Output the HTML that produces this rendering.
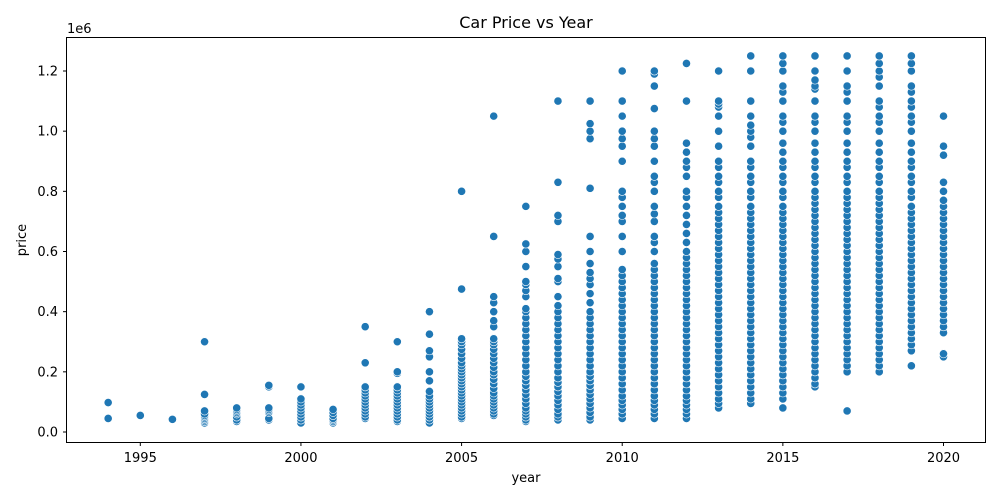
<!DOCTYPE html>
<html><head><meta charset="utf-8"><style>
html,body{margin:0;padding:0;background:#fff;}
svg{display:block;font-family:"DejaVu Sans","Liberation Sans",sans-serif;}
</style></head><body>
<svg id="chart" width="1000" height="500" viewBox="0 0 1000 500" xmlns="http://www.w3.org/2000/svg">
<rect x="0" y="0" width="1000" height="500" fill="#fff"/>
<text x="526" y="28" text-anchor="middle" font-size="16">Car Price vs Year</text>
<text x="67" y="33" font-size="13">1e6</text>
<text x="526" y="482" text-anchor="middle" font-size="13">year</text>
<text x="26" y="240" text-anchor="middle" font-size="13" transform="rotate(-90 26 240)">price</text>
<g id="ticks"></g>
<g id="points"></g>
<rect x="66.5" y="37.5" width="919" height="405" fill="none" stroke="#000" stroke-width="1"/>
</svg>
<script>
const xTicks = [1995, 2000, 2005, 2010, 2015, 2020];
const yTicks = [0, 0.2, 0.4, 0.6, 0.8, 1.0, 1.2];
const yTickLabels = ["0.0","0.2","0.4","0.6","0.8","1.0","1.2"];
const years = [1994,1995,1996,1997,1998,1999,2000,2001,2002,2003,2004,2005,2006,2007,2008,2009,2010,2011,2012,2013,2014,2015,2016,2017,2018,2019,2020];
// prices in thousands
const p1994 = [45,98];
const p1995 = [55];
const p1996 = [42];
const p1997 = [30,35,40,45,50,55,60,70,125,300];
const p1998 = [35,40,50,60,65,70,75,80];
const p1999 = [40,45,65,70,75,80,150,155];
const p2000 = [30,40,50,60,70,80,90,100,110,150];
const p2001 = [30,35,40,45,55,65,75];
const p2002 = [45,50,60,70,80,90,100,110,120,130,140,150,230,350];
const p2003 = [35,40,50,60,70,80,90,100,110,120,130,140,150,195,200,300];
const p2004 = [30,40,50,60,70,80,90,100,110,120,135,170,200,250,270,325,400];
const p2005 = [45,50,60,70,80,90,100,110,120,130,140,150,160,170,180,190,200,210,220,230,245,260,275,290,300,310,475,800];
const p2006 = [55,60,70,80,90,100,110,120,130,145,160,175,190,200,215,230,245,260,275,290,300,310,350,370,400,430,450,650,1050];
const p2007 = [35,40,50,60,70,80,95,110,125,140,155,170,185,200,220,240,260,280,300,320,340,360,380,400,410,450,470,490,500,550,600,625,750];
const p2008 = [40,50,60,75,90,105,120,135,150,165,180,200,220,240,260,280,300,320,340,360,380,400,420,450,500,510,550,575,590,700,720,830,1100];
const p2009 = [40,50,65,80,95,110,125,140,155,170,185,200,220,240,260,280,300,320,340,360,380,400,430,460,490,510,530,560,600,650,810,975,1000,1025,1100];
const p2010 = [45,60,75,90,105,120,140,160,180,200,220,240,260,280,300,320,340,360,380,400,420,440,460,480,500,520,540,600,650,700,720,750,780,800,900,950,975,1000,1050,1100,1200];
const p2011 = [45,60,75,90,105,120,140,160,180,200,220,240,260,280,300,320,340,360,380,400,420,440,460,480,500,520,540,560,600,630,650,700,725,750,800,830,850,900,950,975,1000,1075,1150,1190,1200];
const p2012 = [45,60,75,90,105,120,140,160,180,200,220,240,260,280,300,320,340,360,380,400,420,440,460,480,500,520,540,560,580,600,630,660,690,720,750,780,800,850,880,900,930,960,1100,1225];
const p2013 = [80,95,110,130,150,170,190,210,230,250,270,290,310,330,350,370,390,410,430,450,470,490,510,530,550,570,590,610,630,650,670,690,710,730,750,780,800,830,850,880,900,950,1000,1050,1080,1090,1100,1200];
const p2014 = [95,110,130,150,170,190,210,230,250,270,290,310,330,350,370,390,410,430,450,470,490,510,530,550,570,590,610,630,650,670,690,710,730,750,780,800,830,850,880,900,950,980,1000,1020,1050,1100,1200,1250];
const p2015 = [80,110,130,150,170,190,210,230,250,270,290,310,330,350,370,390,410,430,450,470,490,510,530,550,570,590,610,630,650,670,690,710,730,750,780,800,830,850,880,900,930,960,1000,1030,1050,1100,1130,1150,1200,1225,1250];
const p2016 = [150,160,180,200,220,240,260,280,300,320,340,360,380,400,420,440,460,480,500,520,540,560,580,600,620,640,660,680,700,720,740,760,780,800,830,850,880,900,930,960,1000,1030,1050,1100,1140,1150,1170,1200,1250];
const p2017 = [70,200,220,240,260,280,300,320,340,360,380,400,420,440,460,480,500,520,540,560,580,600,620,640,660,680,700,720,740,760,780,800,830,850,880,900,930,960,1000,1030,1050,1100,1130,1150,1200,1250];
const p2018 = [200,220,240,260,280,300,320,340,360,380,400,420,440,460,480,500,520,540,560,580,600,620,640,660,680,700,720,740,760,780,800,830,850,880,900,930,960,1000,1030,1050,1080,1100,1150,1180,1200,1225,1250];
const p2019 = [220,270,290,310,330,350,370,390,410,430,450,470,490,510,530,550,570,590,610,630,650,670,690,710,730,750,780,800,830,850,880,900,930,960,1000,1030,1050,1080,1100,1130,1150,1200,1225,1250];
const p2020 = [250,260,330,350,370,390,410,430,450,470,490,510,530,550,570,590,610,630,650,670,690,710,730,750,770,800,830,920,950,1050];
const prices = [p1994,p1995,p1996,p1997,p1998,p1999,p2000,p2001,p2002,p2003,p2004,p2005,p2006,p2007,p2008,p2009,p2010,p2011,p2012,p2013,p2014,p2015,p2016,p2017,p2018,p2019,p2020];

const NS = "http://www.w3.org/2000/svg";
function xScale(yr){ return 140.3 + (yr - 1995) * (943.5 - 140.3) / 25; }
function yScale(v){ return 432 - v * (432 - 71) / 1200000; }

const tg = document.getElementById('ticks');
xTicks.forEach(t => {
  const x = xScale(t);
  const l = document.createElementNS(NS,'line');
  l.setAttribute('x1',x); l.setAttribute('x2',x); l.setAttribute('y1',442.5); l.setAttribute('y2',446);
  l.setAttribute('stroke','#000');
  
  
  tg.appendChild(l);
  const tx = document.createElementNS(NS,'text');
  tx.setAttribute('x',x); tx.setAttribute('y',462); tx.setAttribute('text-anchor','middle'); tx.setAttribute('font-size','13');
  tx.textContent = t;
  
  
  tg.appendChild(tx);
});
yTicks.forEach((t,i) => {
  const y = yScale(t * 1e6);
  const l = document.createElementNS(NS,'line');
  l.setAttribute('x1',63); l.setAttribute('x2',66.5); l.setAttribute('y1',y); l.setAttribute('y2',y);
  l.setAttribute('stroke','#000');
  
  
  tg.appendChild(l);
  const tx = document.createElementNS(NS,'text');
  tx.setAttribute('x',58); tx.setAttribute('y',y+4.5); tx.setAttribute('text-anchor','end'); tx.setAttribute('font-size','13');
  tx.textContent = yTickLabels[i];
  
  
  tg.appendChild(tx);
});

const pg = document.getElementById('points');
years.forEach((yr,i) => {
  prices[i].forEach(v => {
    const c = document.createElementNS(NS,'circle');
    c.setAttribute('cx', xScale(yr));
    c.setAttribute('cy', yScale(v * 1000));
    c.setAttribute('r', 4.1);
    c.setAttribute('fill', '#1f77b4');
    c.setAttribute('stroke', '#fff');
    c.setAttribute('stroke-width', '0.6');
    
    
    pg.appendChild(c);
  });
});
</script>
</body></html>
